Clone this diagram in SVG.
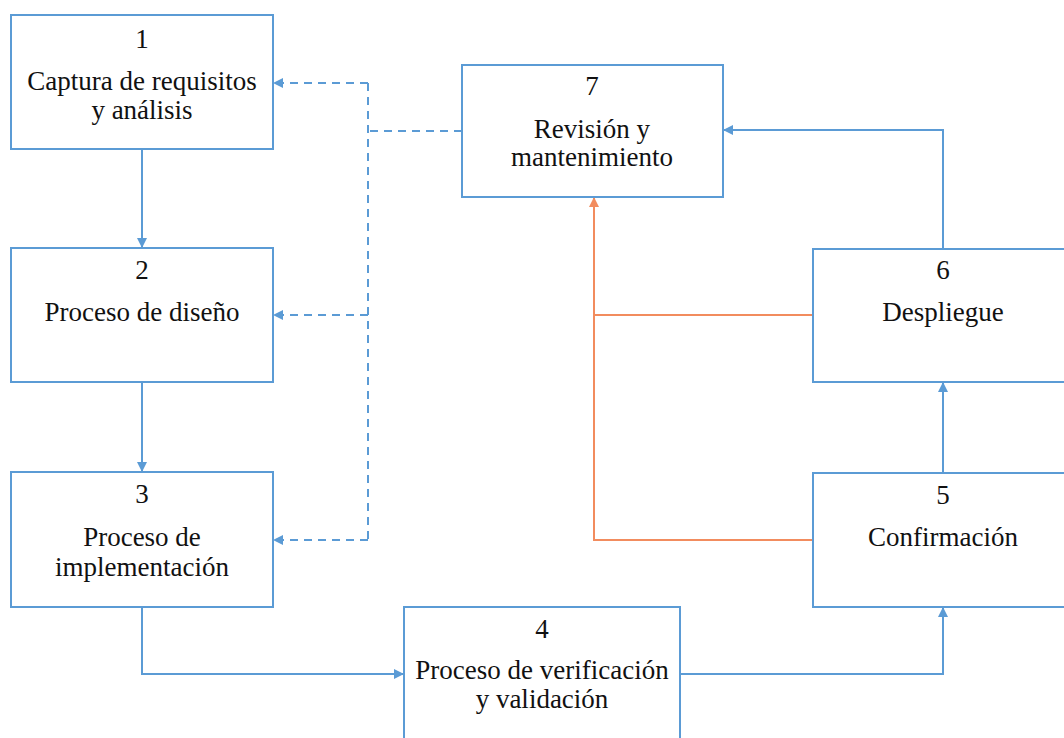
<svg xmlns="http://www.w3.org/2000/svg" width="1064" height="738" viewBox="0 0 1064 738">
  <style>
    .box { fill: #ffffff; stroke: #5b9bd5; stroke-width: 2; }
    .lbl { font-family: "Liberation Serif", "Times New Roman", serif; font-size: 27px; fill: #111111; text-anchor: middle; }
    .flow { fill: none; stroke: #5b9bd5; stroke-width: 2; }
    .dash { fill: none; stroke: #5b9bd5; stroke-width: 2; stroke-dasharray: 8 6; }
    .back { fill: none; stroke: #f28c5e; stroke-width: 2; }
  </style>
  <defs>
    <marker id="ab" viewBox="0 0 10 10" refX="9" refY="5" markerWidth="5" markerHeight="5" orient="auto" markerUnits="strokeWidth">
      <path d="M0,0 L10,5 L0,10 Z" fill="#5b9bd5"/>
    </marker>
    <marker id="ao" viewBox="0 0 10 10" refX="9" refY="5" markerWidth="5" markerHeight="5" orient="auto" markerUnits="strokeWidth">
      <path d="M0,0 L10,5 L0,10 Z" fill="#f28c5e"/>
    </marker>
  </defs>
  <rect width="1064" height="738" fill="#ffffff"/>

  <g id="connectors">
    <line class="flow" x1="142" y1="149" x2="142" y2="247" marker-end="url(#ab)"/>
    <line class="flow" x1="142" y1="382" x2="142" y2="471" marker-end="url(#ab)"/>
    <polyline class="flow" points="142,607 142,674 403,674" marker-end="url(#ab)"/>
    <polyline class="flow" points="680,674 943,674 943,608" marker-end="url(#ab)"/>
    <line class="flow" x1="943" y1="473" x2="943" y2="383" marker-end="url(#ab)"/>
    <polyline class="flow" points="943,249 943,130 724,130" marker-end="url(#ab)"/>
    <line class="back" x1="813" y1="315" x2="594" y2="315"/>
    <polyline class="back" points="813,540 594,540 594,198" marker-end="url(#ao)"/>
    <line class="dash" x1="462" y1="131" x2="368" y2="131"/>
    <polyline class="dash" points="368,83 368,540"/>
    <line class="dash" x1="368" y1="83" x2="274" y2="83" marker-end="url(#ab)"/>
    <line class="dash" x1="368" y1="315" x2="274" y2="315" marker-end="url(#ab)"/>
    <line class="dash" x1="368" y1="540" x2="274" y2="540" marker-end="url(#ab)"/>
  </g>

  <g id="node1">
    <rect class="box" x="11" y="15" width="262" height="134"/>
    <text class="lbl" x="142" y="48">1</text>
    <text class="lbl" x="142" y="90">Captura de requisitos</text>
    <text class="lbl" x="142" y="119">y análisis</text>
  </g>
  <g id="node2">
    <rect class="box" x="11" y="248" width="262" height="134"/>
    <text class="lbl" x="142" y="279">2</text>
    <text class="lbl" x="142" y="321">Proceso de diseño</text>
  </g>
  <g id="node3">
    <rect class="box" x="11" y="472" width="262" height="135"/>
    <text class="lbl" x="142" y="503">3</text>
    <text class="lbl" x="142" y="546">Proceso de</text>
    <text class="lbl" x="142" y="576">implementación</text>
  </g>
  <g id="node4">
    <rect class="box" x="404" y="607" width="276" height="140"/>
    <text class="lbl" x="542" y="638">4</text>
    <text class="lbl" x="542" y="679">Proceso de verificación</text>
    <text class="lbl" x="542" y="708">y validación</text>
  </g>
  <g id="node5">
    <rect class="box" x="813" y="473" width="262" height="134"/>
    <text class="lbl" x="943" y="504">5</text>
    <text class="lbl" x="943" y="546">Confirmación</text>
  </g>
  <g id="node6">
    <rect class="box" x="813" y="249" width="262" height="133"/>
    <text class="lbl" x="943" y="279">6</text>
    <text class="lbl" x="943" y="321">Despliegue</text>
  </g>
  <g id="node7">
    <rect class="box" x="462" y="65" width="261" height="132"/>
    <text class="lbl" x="592" y="95">7</text>
    <text class="lbl" x="592" y="138">Revisión y</text>
    <text class="lbl" x="592" y="166">mantenimiento</text>
  </g>
</svg>
